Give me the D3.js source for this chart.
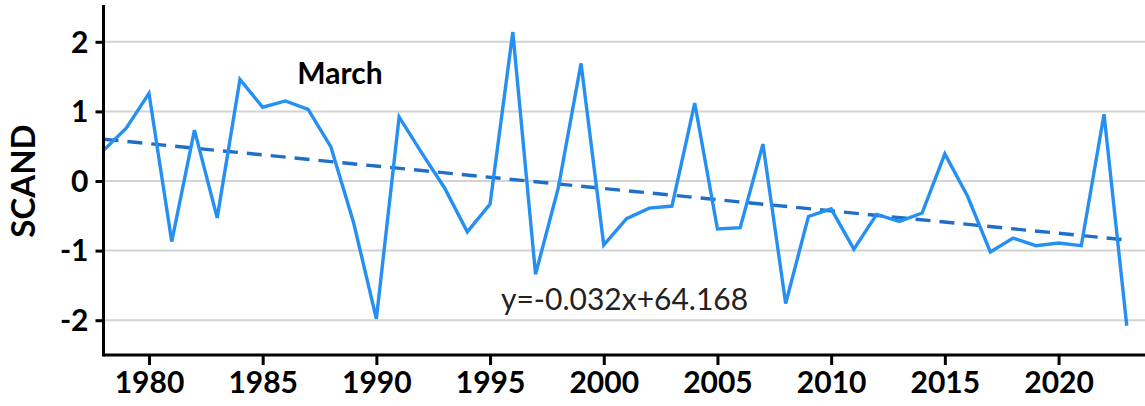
<!DOCTYPE html>
<html>
<head>
<meta charset="utf-8">
<script src="https://cdn.jsdelivr.net/npm/d3@7"></script>
<style>
  body { margin: 0; background: #fff; }
  svg { display: block; }
  .tick text { font-family: Lato, "Open Sans", sans-serif; font-weight: bold; fill: #000; }
</style>
</head>
<body>
<script>
var width = 1145,
    height = 406;

// SCAND index, March, 1978-2023
var years = d3.range(1978, 2024);
var scand = [0.44, 0.76, 1.26, -0.87, 0.73, -0.53, 1.46, 1.06, 1.15, 1.03,
             0.49, -0.6, -1.98, 0.92, 0.4, -0.1, -0.73, -0.33, 2.14, -1.34,
             -0.1, 1.69, -0.92, -0.54, -0.39, -0.36, 1.12, -0.69, -0.67, 0.53,
             -1.76, -0.51, -0.4, -0.98, -0.48, -0.58, -0.46, 0.39, -0.22, -1.02,
             -0.82, -0.93, -0.89, -0.93, 0.96, -2.08];
var xTicks = [1980, 1985, 1990, 1995, 2000, 2005, 2010, 2015, 2020];
var yTicks = [-2, -1, 0, 1, 2];
var equation = "y=-0.032x+64.168";

var data = years.map(function (y, i) { return { year: y, v: scand[i] }; });

// least squares trend
var mx = d3.mean(years), my = d3.mean(scand);
var slope = d3.sum(data, d => (d.year - mx) * (d.v - my)) / d3.sum(data, d => (d.year - mx) * (d.year - mx));
var icpt = my - slope * mx;
var trend = [1978, 2023].map(function (y) { return { year: y, v: icpt + slope * y }; });

var svg = d3.select("body").append("svg")
    .attr("width", width)
    .attr("height", height);

var x = d3.scaleLinear().domain([1978, 2024]).range([103.5, 1149.5]);
var y = d3.scaleLinear().domain([-2.5, 2.5]).range([355, 7]);

// grid
svg.append("g").selectAll("line")
    .data(yTicks)
    .enter().append("line")
    .attr("x1", x(1978)).attr("x2", width)
    .attr("y1", d => y(d)).attr("y2", d => y(d))
    .attr("stroke", "#d3d3d3")
    .attr("stroke-width", 2);

var line = d3.line()
    .x(d => x(d.year))
    .y(d => y(d.v));

svg.append("path")
    .attr("d", line(trend))
    .attr("fill", "none")
    .attr("stroke", "#1f6fc8")
    .attr("stroke-width", 3.4)
    .attr("stroke-dasharray", "15,9");

svg.append("path")
    .attr("d", line(data))
    .attr("fill", "none")
    .attr("stroke", "#2590f2")
    .attr("stroke-width", 3.4)
    .attr("stroke-linejoin", "miter");

// axes
var xAxis = d3.axisBottom(x).tickValues(xTicks).tickFormat(d => String(d)).tickSize(10).tickPadding(7);
var yAxis = d3.axisLeft(y).tickValues(yTicks).tickFormat(d => String(d)).tickSize(8).tickPadding(7);

var gx = svg.append("g")
    .attr("transform", "translate(0," + y(-2.5) + ")")
    .call(xAxis);
gx.select(".domain").attr("d", "M" + x(1978) + ",0H" + width);

var gy = svg.append("g")
    .attr("transform", "translate(" + x(1978) + ",0)")
    .call(yAxis);
gy.select(".domain").attr("d", "M0,5V" + (y(-2.5) + 1.5));

svg.selectAll(".domain").attr("stroke", "#000").attr("stroke-width", 3);
svg.selectAll(".tick line").attr("stroke", "#000").attr("stroke-width", 3);
gx.selectAll(".tick text").style("font-size", "30px");
gy.selectAll(".tick text").style("font-size", "30px").attr("dy", "0.34em");

svg.append("text")
    .attr("transform", "translate(35," + y(0) + ") rotate(-90)")
    .attr("text-anchor", "middle")
    .style("font-family", "Lato, 'Open Sans', sans-serif")
    .style("font-weight", "bold")
    .style("font-size", "33px")
    .text("SCAND");

svg.append("text")
    .attr("x", 340).attr("y", 84)
    .attr("text-anchor", "middle")
    .style("font-family", "Lato, 'Open Sans', sans-serif")
    .style("font-weight", "bold")
    .style("font-size", "30px")
    .text("March");

svg.append("text")
    .attr("x", 501).attr("y", 310)
    .style("font-family", "Lato, 'Open Sans', sans-serif")
    .style("font-size", "30px")
    .attr("fill", "#222")
    .text(equation);
</script>
</body>
</html>
